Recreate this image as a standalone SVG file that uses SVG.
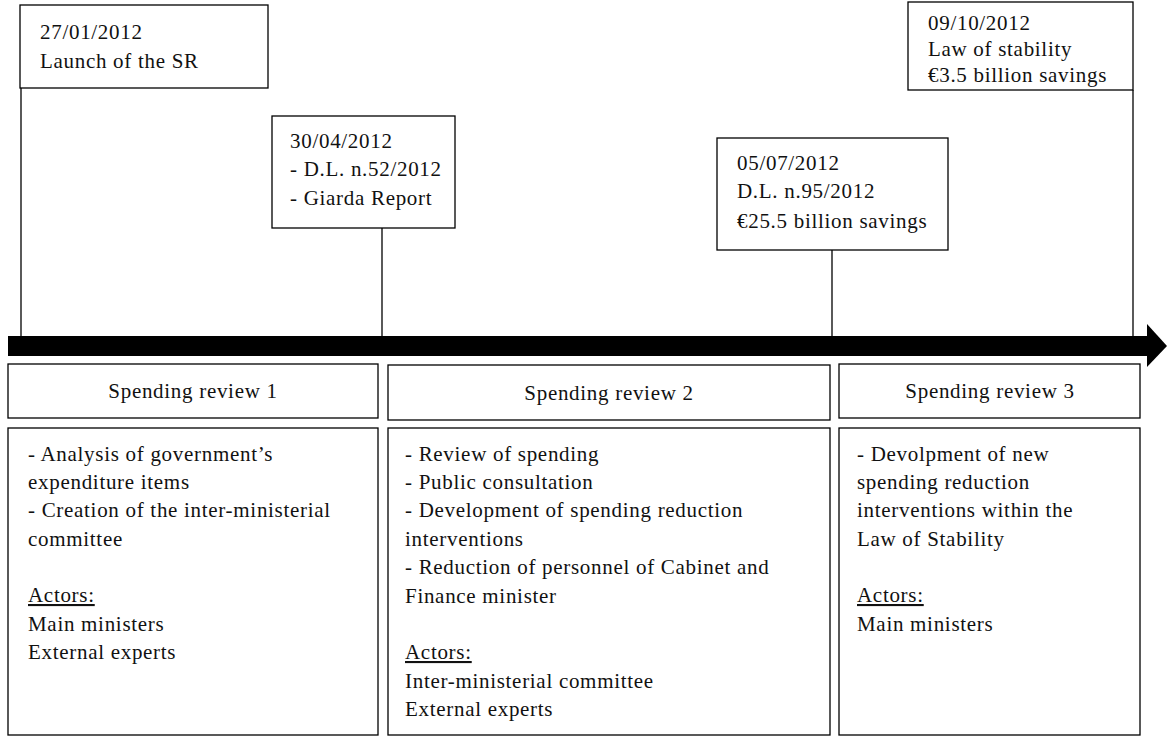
<svg xmlns="http://www.w3.org/2000/svg" width="1167" height="737" viewBox="0 0 1167 737">
<style>
  .box{fill:#fff;stroke:#000;stroke-width:1.3}
  .ln{stroke:#000;stroke-width:1.3;fill:none}
  text{font-family:"Liberation Serif","Times New Roman",serif;font-size:21px;letter-spacing:0.7px;fill:#111}
  .c{text-anchor:middle}
  .u{text-decoration:underline}
</style>
<rect width="1167" height="737" fill="#fff"/>
<g id="connectors">
  <line class="ln" x1="21" y1="88" x2="21" y2="337"/>
  <line class="ln" x1="382" y1="228" x2="382" y2="337"/>
  <line class="ln" x1="832" y1="250" x2="832" y2="337"/>
  <line class="ln" x1="1133" y1="90" x2="1133" y2="337"/>
</g>
<g id="timeline">
  <rect x="8" y="336" width="1140" height="20" fill="#000"/>
  <polygon points="1147,324 1167,346 1147,367" fill="#000"/>
</g>
<g id="event1">
  <rect class="box" x="20" y="5" width="248" height="83"/>
  <text x="40" y="39">27/01/2012</text>
  <text x="40" y="68">Launch of the SR</text>
</g>
<g id="event2">
  <rect class="box" x="272" y="116" width="183" height="112"/>
  <text x="290" y="148">30/04/2012</text>
  <text x="290" y="176">- D.L. n.52/2012</text>
  <text x="290" y="205">- Giarda Report</text>
</g>
<g id="event3">
  <rect class="box" x="717" y="138" width="231" height="112"/>
  <text x="737" y="170">05/07/2012</text>
  <text x="737" y="198">D.L. n.95/2012</text>
  <text x="737" y="228">€25.5 billion savings</text>
</g>
<g id="event4">
  <rect class="box" x="908" y="2" width="225" height="88"/>
  <text x="928" y="30">09/10/2012</text>
  <text x="928" y="56">Law of stability</text>
  <text x="928" y="82">€3.5 billion savings</text>
</g>
<g id="sr1-header">
  <rect class="box" x="8" y="364" width="370" height="54"/>
  <text class="c" x="193" y="398">Spending review 1</text>
</g>
<g id="sr2-header">
  <rect class="box" x="388" y="365" width="442" height="55"/>
  <text class="c" x="609" y="400">Spending review 2</text>
</g>
<g id="sr3-header">
  <rect class="box" x="839" y="364" width="301" height="54"/>
  <text class="c" x="990" y="398">Spending review 3</text>
</g>
<g id="sr1-content">
  <rect class="box" x="8" y="428" width="370" height="307"/>
  <text x="28" y="461">- Analysis of government’s</text>
  <text x="28" y="489">expenditure items</text>
  <text x="28" y="517">- Creation of the inter-ministerial</text>
  <text x="28" y="546">committee</text>
  <text class="u" x="28" y="602">Actors:</text>
  <text x="28" y="631">Main ministers</text>
  <text x="28" y="659">External experts</text>
</g>
<g id="sr2-content">
  <rect class="box" x="388" y="428" width="442" height="307"/>
  <text x="405" y="461">- Review of spending</text>
  <text x="405" y="489">- Public consultation</text>
  <text x="405" y="517">- Development of spending reduction</text>
  <text x="405" y="546">interventions</text>
  <text x="405" y="574">- Reduction of personnel of Cabinet and</text>
  <text x="405" y="603">Finance minister</text>
  <text class="u" x="405" y="659">Actors:</text>
  <text x="405" y="688">Inter-ministerial committee</text>
  <text x="405" y="716">External experts</text>
</g>
<g id="sr3-content">
  <rect class="box" x="839" y="428" width="301" height="307"/>
  <text x="857" y="461">- Devolpment of new</text>
  <text x="857" y="489">spending reduction</text>
  <text x="857" y="517">interventions within the</text>
  <text x="857" y="546">Law of Stability</text>
  <text class="u" x="857" y="602">Actors:</text>
  <text x="857" y="631">Main ministers</text>
</g>
</svg>
